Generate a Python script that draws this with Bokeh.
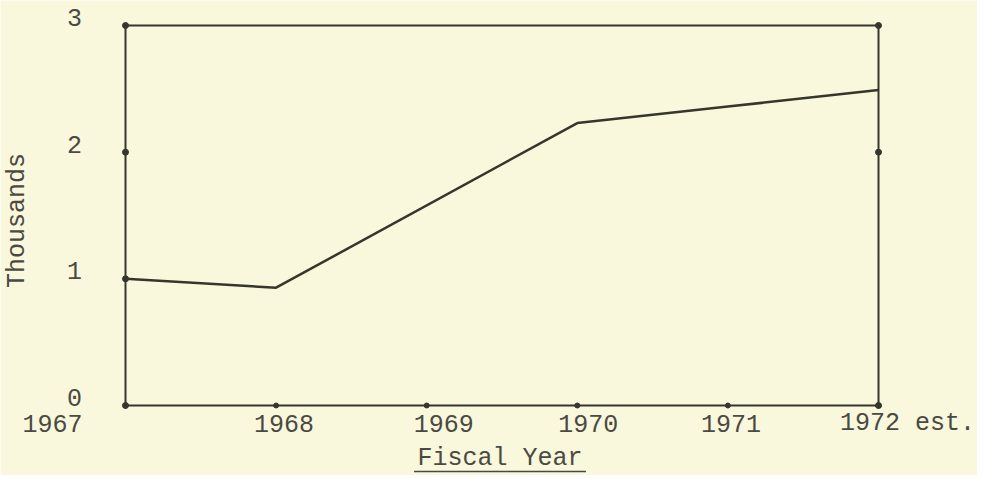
from math import pi
from bokeh.plotting import figure
from bokeh.models import Range1d
from bokeh.core.properties import value
from bokeh.embed import file_html
from bokeh.resources import INLINE

# ---- data ----
years = [1967, 1968, 1970, 1971, 1972]
thousands = [1.00, 0.93, 2.23, 2.36, 2.49]

x_ticks = [1967, 1968, 1969, 1970, 1971, 1972]
x_tick_labels = ["1967", "1968", "1969", "1970", "1971", "1972 est."]
y_ticks = [0, 1, 2, 3]
y_tick_labels = ["0", "1", "2", "3"]
right_ticks = [0, 2, 3]

# ---- style / layout ----
BG = "#f9f7dc"
INK = "#36362c"
TXT = "#4a4a42"
FONT = value("Liberation Mono")
FS = value("25px")
x_label_nudge = [-73, 8, 17, 11, 3, 29]   # typewriter placement of the year labels (px)

W, H = 977, 475
BOX_L, BOX_R, BOX_T, BOX_B = 125, 878, 25, 405   # pixel box of the typed chart

x0, x1 = x_ticks[0], x_ticks[-1]
y0, y1 = y_ticks[0], y_ticks[-1]
px_x = (BOX_R - BOX_L) / (x1 - x0)
px_y = (BOX_B - BOX_T) / (y1 - y0)

xr = Range1d(x0 - BOX_L / px_x, x1 + (W - BOX_R) / px_x)
yr = Range1d(y0 - (H - BOX_B) / px_y, y1 + BOX_T / px_y)

p = figure(width=W, height=H, x_range=xr, y_range=yr,
           output_backend="svg", toolbar_location=None,
           min_border=0, background_fill_color=BG, border_fill_color=BG)
p.grid.visible = False
p.axis.visible = False
p.outline_line_color = None

# chart box (axes of the typed chart)
p.quad(left=[x0], right=[x1], bottom=[y0], top=[y1], fill_color=None,
       line_color=INK, line_width=2)

# tick dots
p.scatter([x0] * len(y_ticks), y_ticks, size=6, color=INK)
p.scatter([x1] * len(right_ticks), right_ticks, size=6, color=INK)
p.scatter(x_ticks, [y0] * len(x_ticks), size=5, color=INK)

# data line
p.line(years, thousands, line_color=INK, line_width=2.5)

# tick labels
p.text(x=x_ticks, y=[y0] * len(x_ticks), text=x_tick_labels, x_offset=x_label_nudge,
       y_offset=18, text_align="center", text_baseline="middle",
       text_font=FONT, text_font_size=FS, text_color=TXT)
p.text(x=[x0] * len(y_ticks), y=y_ticks, text=y_tick_labels, x_offset=-51, y_offset=-8,
       text_align="center", text_baseline="middle",
       text_font=FONT, text_font_size=FS, text_color=TXT)

# axis titles
p.text(x=[x0], y=[(y0 + y1) / 2], text=["Thousands"], x_offset=-108, y_offset=5,
       angle=pi / 2, text_align="center", text_baseline="middle",
       text_font=FONT, text_font_size=FS, text_color=TXT)

xmid = (x0 + x1) / 2
p.text(x=[xmid], y=[y0], text=["Fiscal Year"], x_offset=-2, y_offset=53,
       text_align="center", text_baseline="middle",
       text_font=FONT, text_font_size=FS, text_color=TXT)

uy = y0 - 66 / px_y
p.segment(x0=[xmid - 88 / px_x], x1=[xmid + 84 / px_x], y0=[uy], y1=[uy],
          line_color=TXT, line_width=1.5)

open("out.html", "w").write(file_html(p, INLINE))
